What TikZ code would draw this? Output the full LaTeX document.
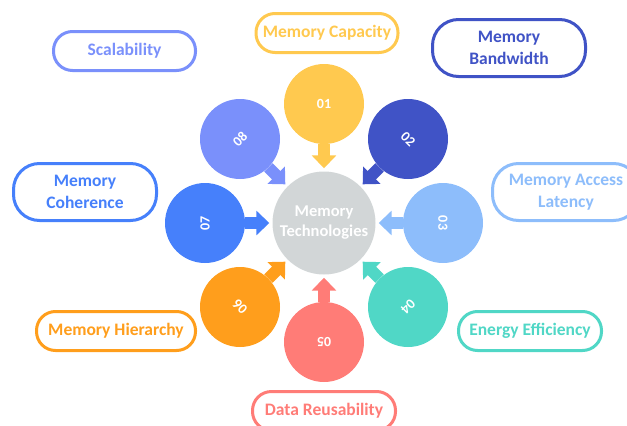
\documentclass[tikz,border=0pt]{standalone}
\usepackage{fontspec}
\setmainfont{Carlito}
\usetikzlibrary{arrows.meta}
\definecolor{cA}{HTML}{FFC94F}
\definecolor{cB}{HTML}{4053C6}
\definecolor{cC}{HTML}{8DBDFB}
\definecolor{cD}{HTML}{50D7C6}
\definecolor{cE}{HTML}{FF7C77}
\definecolor{cF}{HTML}{FF9E1C}
\definecolor{cG}{HTML}{4680FB}
\definecolor{cH}{HTML}{7A90FB}
\definecolor{cCtr}{HTML}{D2D6D7}
\tikzset{
  num/.style={circle, minimum size=80pt, inner sep=0pt, text=white, font=\bfseries\fontsize{14}{16}\selectfont},
  pill/.style={draw=#1, text=#1, line width=3pt, fill=white, inner sep=2pt, align=center,
     font=\bfseries\fontsize{17.5}{22}\selectfont},
  oneline/.style={minimum height=39pt, rounded corners=19pt},
  twoline/.style={minimum height=57pt, rounded corners=26pt},
  blk/.style={line width=12pt, -{Triangle[width=24pt,length=13pt]}, shorten >=3pt, #1}
}
\begin{document}
\begin{tikzpicture}[x=1pt,y=-1pt]
\useasboundingbox (0,0) rectangle (627,426);
% center
\node[circle, fill=cCtr, minimum size=103pt, inner sep=0pt, text=white, align=center,
  font=\bfseries\fontsize{16.5}{20}\selectfont] (ctr) at (324,223) {Memory\\Technologies};
% numbered circles
\node[num, fill=cA] (n1) at (324,104) {01};
\node[num, fill=cB, rotate=-45] (n2) at (408,139) {02};
\node[num, fill=cC, rotate=-90] (n3) at (443,223) {03};
\node[num, fill=cD, rotate=-135] (n4) at (408,307) {04};
\node[num, fill=cE, rotate=180] (n5) at (324,342) {05};
\node[num, fill=cF, rotate=135] (n6) at (240,307) {06};
\node[num, fill=cG, rotate=90] (n7) at (205,223) {07};
\node[num, fill=cH, rotate=45] (n8) at (240,139) {08};
% block arrows
\draw[blk=cA] (n1) -- (ctr);
\draw[blk=cB] (n2) -- (ctr);
\draw[blk=cC] (n3) -- (ctr);
\draw[blk=cD] (n4) -- (ctr);
\draw[blk=cE] (n5) -- (ctr);
\draw[blk=cF] (n6) -- (ctr);
\draw[blk=cG] (n7) -- (ctr);
\draw[blk=cH] (n8) -- (ctr);
% labels
\node[pill=cA, oneline, minimum width=142pt] (lA) at (327,33) {Memory Capacity};
\node[pill=cB, twoline, minimum width=153pt] (lB) at (509,48) {Memory\\Bandwidth};
\node[pill=cC, twoline, minimum width=147pt] (lC) at (566,192) {Memory Access\\Latency};
\node[pill=cD, oneline, minimum width=143pt] (lD) at (530,331) {Energy Efficiency};
\node[pill=cE, oneline, minimum width=143pt] (lE) at (324,411) {Data Reusability};
\node[pill=cF, oneline, minimum width=159pt] (lF) at (116,331) {Memory Hierarchy};
\node[pill=cG, twoline, minimum width=143pt] (lG) at (85,192) {Memory\\Coherence};
\node[pill=cH, oneline, minimum width=142pt] (lH) at (124.5,51) {Scalability};
\end{tikzpicture}
\end{document}
